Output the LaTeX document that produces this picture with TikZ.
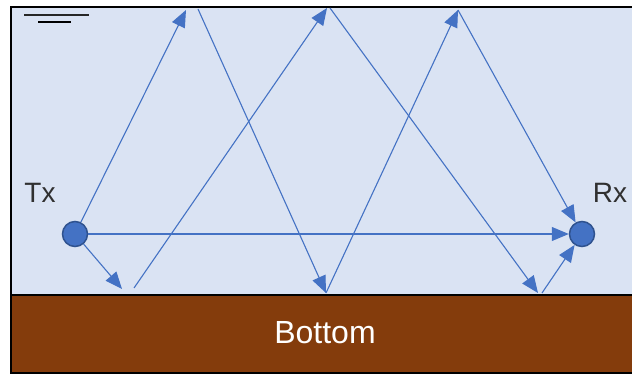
\documentclass[tikz,border=0pt]{standalone}
\usepackage{fontspec}
\setmainfont{Liberation Sans}
\usetikzlibrary{arrows.meta}
\definecolor{water}{HTML}{DAE3F3}
\definecolor{seabed}{HTML}{843C0C}
\definecolor{raycol}{HTML}{4472C4}
\definecolor{stationedge}{HTML}{2F528F}
\definecolor{labelcol}{HTML}{303030}
\begin{document}
\begin{tikzpicture}[x=1pt, y=-1pt,
    ray/.style = {raycol, line width=1.1pt},
    arr/.style = {ray, -{Triangle[length=17pt,width=14pt]}},
    station/.style = {circle, fill=raycol, draw=stationedge, line width=1.5pt, minimum size=25pt, inner sep=0pt},
    label/.style = {text=labelcol, font=\fontsize{28}{32}\selectfont}]
    \useasboundingbox (0,0) rectangle (632,374);
    \clip (0,0) rectangle (632,374);

    % Water and bottom
    \fill[water] (11,7) rectangle (640,295);
    \fill[seabed] (11,295) rectangle (640,373);
    \draw[line width=1.8pt] (11,295) -- (640,295);
    \draw[line width=2.5pt] (640,7) -- (11,7) -- (11,373) -- (640,373);
    \node[white, font=\fontsize{32}{36}\selectfont] (bottom) at (325,333) {Bottom};

    % Surface mark
    \draw[gray!30!black, line width=1.2pt] (24,15) -- (89,15);
    \draw[black, line width=1.2pt] (38,22) -- (71,22);

    % Tx and Rx
    \node[station] (tx) at (75,234) {};
    \node[station] (rx) at (582,234) {};
    \node[label] (txlabel) at (40,193) {Tx};
    \node[label] (rxlabel) at (610,193) {Rx};

    % Reflection points
    \coordinate (top1) at (186,10);
    \coordinate (top1b) at (198,9);
    \coordinate (bot1) at (326,293);
    \coordinate (top2) at (458,10);
    \coordinate (bot0) at (122,289);
    \coordinate (bot0b) at (134,288);
    \coordinate (top3) at (327,8);
    \coordinate (top3b) at (330,8);
    \coordinate (bot2) at (538,293);
    \coordinate (bot2b) at (542,293);

    % Direct path
    \draw[arr] (tx) -- (rx);

    % Surface first
    \draw[arr] (tx) -- (top1);
    \draw[arr] (top1b) -- (bot1);
    \draw[arr] (bot1) -- (top2);
    \draw[arr] (top2) -- (rx);

    % Bottom first
    \draw[arr] (tx) -- (bot0);
    \draw[arr] (bot0b) -- (top3);
    \draw[arr] (top3b) -- (bot2);
    \draw[arr] (bot2b) -- (rx);
\end{tikzpicture}
\end{document}
